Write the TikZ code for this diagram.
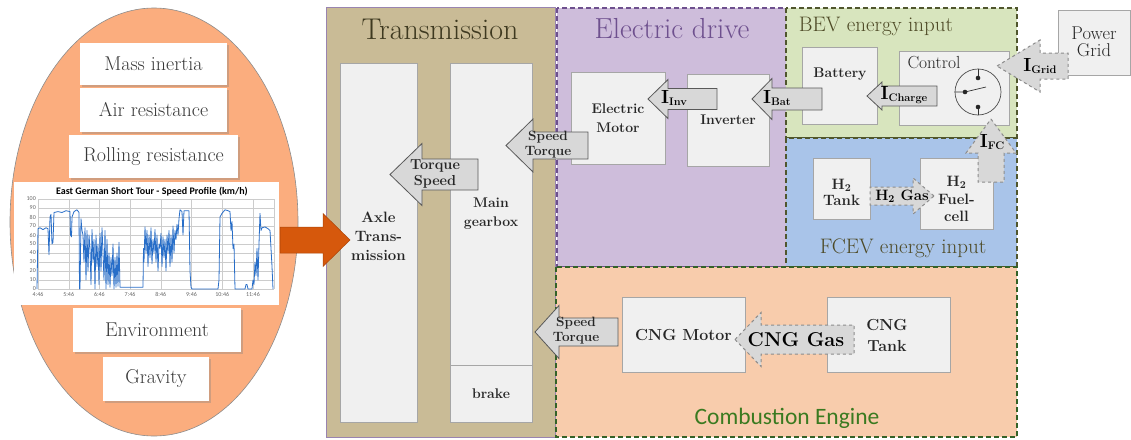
\documentclass[tikz,border=0pt]{standalone}
\usepackage{fontspec}
\setsansfont{Carlito}
\usetikzlibrary{shadows}
\definecolor{ellfill}{RGB}{251,173,126}
\definecolor{transfill}{RGB}{201,187,150}
\definecolor{transtext}{RGB}{62,57,32}
\definecolor{edfill}{RGB}{206,189,219}
\definecolor{bevfill}{RGB}{216,229,190}
\definecolor{fcevfill}{RGB}{169,196,233}
\definecolor{cngfill}{RGB}{248,204,172}
\definecolor{boxfill}{RGB}{240,240,240}
\definecolor{arrfill}{RGB}{216,216,216}
\definecolor{edline}{RGB}{110,80,142}
\definecolor{olivetext}{RGB}{78,74,38}
\definecolor{oliveline}{RGB}{80,86,45}
\definecolor{cngline}{RGB}{52,98,40}
\definecolor{cngtext}{RGB}{58,122,32}
\definecolor{orangearr}{RGB}{214,88,12}
\definecolor{speedblue}{RGB}{40,110,200}
\newcommand{\fsz}[2]{\fontsize{#1}{#2}\selectfont}
\newcommand{\Isub}[1]{\textbf{I}\raisebox{-1.5pt}{\fsz{11}{11}\bfseries #1}}
% left pointing block arrow: tip x, tip y, head base x, end x, half body, half head
\newcommand{\leftblock}[7][]{\draw[#1] (#2,#3) -- (#4,#3-#7) -- (#4,#3-#6) -- (#5,#3-#6)
  -- (#5,#3+#6) -- (#4,#3+#6) -- (#4,#3+#7) -- cycle;}

\begin{document}
\begin{tikzpicture}[x=1pt,y=-1pt,
  wbox/.style={fill=white, drop shadow={shadow xshift=1.5pt,shadow yshift=-1.5pt,opacity=0.35},
    text=black!78, font=\fsz{20}{22}},
  gbox/.style={fill=boxfill, draw=black!35, line width=0.6pt},
  btext/.style={font=\fsz{14}{19}\bfseries, align=center, text=black!85},
  atext/.style={font=\fsz{13.5}{15}\bfseries, align=center, text=black!85},
  arr/.style={fill=arrfill, draw=black!65, line width=0.8pt},
  darr/.style={fill=arrfill, draw=black!45, dashed, line width=1pt},
  panel/.style={line width=1.3pt, dash pattern=on 5pt off 3pt},
  axlab/.style={font=\sffamily\fsz{6}{7}, text=black!60, inner sep=1pt}]
  \useasboundingbox (0,0) rectangle (1131,439);

  % vehicle loads
  \draw[fill=ellfill, draw=black!45, line width=0.6pt] (154,222) ellipse [x radius=144, y radius=214];
  \node[wbox, minimum width=147pt, minimum height=42pt] (mass) at (153.5,64) {Mass inertia};
  \node[wbox, minimum width=147pt, minimum height=44pt] (air) at (153.5,110) {Air resistance};
  \node[wbox, minimum width=169pt, minimum height=43pt] (rolling) at (153.5,156.5) {Rolling resistance};
  \node[wbox, minimum width=168pt, minimum height=44pt] (environ) at (157,330) {Environment};
  \node[wbox, minimum width=106pt, minimum height=44pt] (gravity) at (156,379) {Gravity};

  % speed profile
  \node[fill=white, minimum width=265pt, minimum height=123pt] (chart) at (146.5,243.5) {};
  \node[font=\sffamily\bfseries\fsz{10}{11}] (charttitle) at (152,192) {East German Short Tour - Speed Profile (km/h)};
  \begin{scope}[shift={(0,289)}, y=0.9pt]
    \foreach \v in {0,10,...,100} {
      \draw[black!20, line width=0.4pt] (38,\v) -- (274,\v);
      \node[axlab, anchor=east] at (37,\v) {\v};
    }
    \foreach \lab [count=\k from 0] in {4:46,5:46,6:46,7:46,8:46,9:46,10:46,11:46} {
      \draw[black!20, line width=0.4pt] ({38+30.7*\k},0) -- ({38+30.7*\k},100);
      \node[axlab, anchor=north] at ({38+30.7*\k},-2) {\lab};
    }
    \draw[black!20, line width=0.4pt] (274,0) -- (274,100);
    \draw[speedblue, line width=0.8pt, line join=round] plot coordinates {
      (37,0) (38,67) (40,68) (43,66) (46,68) (48,67) (49,38) (50,80) (51,83) (52,50) (53,52)
      (54,85) (58,86) (62,85) (66,87) (70,86) (70.5,60) (71.5,58) (72,80) (74,86) (77,88)
      (79,85) (79.5,0) (80,0) (81,78) (82,65) (83,60) (84,30) (85,68) (86,10) (87,65) (88,20)
      (89,60) (90,45) (91,5) (92,66) (93,30) (94,55) (95,0) (96,60) (97,25) (98,50) (99,5)
      (100,62) (101,20) (102,68) (103,40) (104,10) (105,65) (106,0) (107,55) (108,5) (109,40)
      (110,2) (111,35) (112,15) (113,50) (114,0) (115,35) (116,2) (117,40) (118,3) (119,52)
      (120,2) (143,2) (143.5,45) (144,30) (145,69) (146,40) (147,65) (148,25) (149,60) (150,35)
      (151,68) (152,28) (153,55) (154,40) (155,66) (156,30) (157,60) (158,20) (159,50) (160,45)
      (161,62) (162,25) (163,58) (164,35) (165,55) (166,20) (167,60) (168,40) (169,65) (170,25)
      (171,60) (172,30) (173,70) (174,40) (175,65) (176,55) (177,72) (178,60) (179,78) (180,88)
      (182,86) (183,60) (184,87) (189,87) (190,20) (191,2) (192,0) (218,0) (219,10) (220,80)
      (222,84) (225,88) (228,87) (230,86) (231,65) (232,75) (233,45) (234,50) (235,0) (245,0)
      (246,5) (247,5) (248,0) (252,0) (253,10) (254,5) (255,30) (256,15) (257,45) (258,10)
      (259,50) (260,84) (261,65) (262,68) (265,69) (268,67) (270,65) (271,45) (272,25) (273,0)};
  \end{scope}

  % transmission
  \draw[fill=transfill, draw=edline!70, line width=0.8pt] (326,7) rectangle (555,437);
  \node[font=\fsz{30}{34}, text=transtext] (transtitle) at (440,29) {Transmission};
  \node[gbox, minimum width=77pt, minimum height=359pt] (axle) at (378.5,242.5) {};
  \node[btext, font=\fsz{15}{19}\bfseries] (axletext) at ([yshift=6pt]axle.center) {Axle\\Trans-\\mission};
  \node[gbox, minimum width=82pt, minimum height=302pt] (gearbox) at (491,214) {};
  \node[btext] (gearboxtext) at (gearbox.center) {Main\\gearbox};
  \node[gbox, minimum width=82pt, minimum height=57pt] (brake) at (491,393.5) {};
  \node[btext] (braketext) at (brake.center) {brake};

  % electric drive
  \draw[fill=edfill, draw=edline, panel] (557,8) rectangle (787,267);
  \node[font=\fsz{29}{33}, text=edline] (edtitle) at (672,29) {Electric drive};
  \node[gbox, minimum width=94pt, minimum height=92pt] (emotor) at (618,118) {};
  \node[btext] (emotortext) at (emotor.center) {Electric\\Motor};
  \node[gbox, minimum width=82pt, minimum height=92pt] (inverter) at (728,120) {};
  \node[btext] (invertertext) at (inverter.center) {Inverter};

  % BEV energy input
  \draw[fill=bevfill, draw=oliveline, panel] (786,8) rectangle (1017,138);
  \node[font=\fsz{21}{24}, text=olivetext] (bevtitle) at (876,26) {BEV energy input};
  \node[gbox, minimum width=75pt, minimum height=77pt] (battery) at (839.5,85.5) {};
  \node[btext] (batterytext) at (840,74) {Battery};
  \node[gbox, minimum width=110pt, minimum height=74pt] (control) at (954,88) {};
  \node[font=\fsz{17.5}{19}, text=black!85] (controltext) at (934,63) {Control};
  \node[draw=black!70, circle, minimum size=46pt, inner sep=0pt, line width=0.7pt] (switch) at (978,92) {};
  \coordinate (swtop) at (978,78);
  \coordinate (swbot) at (978,107);
  \coordinate (swleft) at (965,92);
  \draw[black!80, line width=0.7pt] (switch.north) -- (swtop);
  \draw[black!80, line width=0.7pt] (switch.south) -- (swbot);
  \draw[black!80, line width=0.7pt] (switch.west) -- (swleft) -- (986,87);
  \foreach \p in {swtop,swbot,swleft} \fill[black!85] (\p) circle [radius=2.3];

  % FCEV energy input
  \draw[fill=fcevfill, draw=oliveline, panel] (786,138) rectangle (1017,267);
  \node[font=\fsz{21}{24}, text=olivetext] (fcevtitle) at (903,248) {FCEV energy input};
  \node[gbox, minimum width=57pt, minimum height=61pt] (htank) at (841.5,188.5) {};
  \node[btext, font=\fsz{15}{16}\bfseries] (htanktext) at (841.5,192) {H\textsubscript{2}\\Tank};
  \node[gbox, minimum width=73pt, minimum height=71pt] (fuelcell) at (956.5,193.5) {};
  \node[btext, font=\fsz{15}{17.5}\bfseries] (fuelcelltext) at (956.5,199) {H\textsubscript{2}\\Fuel-\\cell};

  % combustion engine
  \draw[fill=cngfill, draw=cngline, panel] (556,267) rectangle (1017,437);
  \node[font=\sffamily\fsz{23.5}{26}, text=cngtext] (cngtitle) at (787,418) {Combustion Engine};
  \node[gbox, minimum width=123pt, minimum height=75pt] (cngmotor) at (683.5,334.5) {};
  \node[btext, font=\fsz{16}{20}\bfseries] (cngmotortext) at (683.5,335) {CNG Motor};
  \node[gbox, minimum width=123pt, minimum height=75pt] (cngtank) at (888.5,334.5) {};
  \node[btext, font=\fsz{16}{21}\bfseries] (cngtanktext) at (887,335) {CNG\\Tank};

  % power grid
  \node[gbox, minimum width=72pt, minimum height=65pt] (grid) at (1094,42.5) {};
  \node[font=\fsz{18.5}{17.5}, align=center, text=black!85] (gridtext) at (1094,42) {Power\\Grid};

  % block arrows
  \leftblock[arr]{390}{174.5}{422}{478}{15.5}{31}
  \node[atext, font=\fsz{14.5}{16}\bfseries] (tsarrow) at (435,174) {Torque\\Speed};
  \leftblock[arr]{506}{145.5}{533}{588}{13.5}{26.5}
  \node[atext] (emarrow) at (548,145) {Speed\\Torque};
  \leftblock[arr]{535}{332}{559}{618}{14}{26.5}
  \node[atext] (cngarrow) at (576,331) {Speed\\Torque};
  \leftblock[arr]{648}{99}{668}{717}{10.5}{19.5}
  \node[font=\fsz{19}{20}] (iinv) at (674,98) {\Isub{Inv}};
  \leftblock[arr]{752}{99}{772}{822}{11}{20.5}
  \node[font=\fsz{19}{20}] (ibat) at (777,98) {\Isub{Bat}};
  \leftblock[arr]{867}{96}{882}{937}{10}{14}
  \node[font=\fsz{19}{20}] (icharge) at (904,95) {\Isub{Charge}};
  \leftblock[darr]{735}{339.5}{761}{854}{14.5}{27}
  \node[font=\fsz{20}{20}\bfseries] (cnggas) at (796,340) {CNG Gas};
  \leftblock[darr]{997}{66}{1040}{1068}{13}{26}
  \node[font=\fsz{19}{20}] (igrid) at (1040,66) {\Isub{Grid}};
  \draw[darr] (934,196) -- (913,178) -- (913,187) -- (870,187) -- (870,205) -- (913,205) -- (913,214) -- cycle;
  \node[font=\fsz{15}{15}\bfseries] (hgas) at (902,196) {H\textsubscript{2} Gas};
  \draw[darr] (991,119) -- (1016,153) -- (1004,153) -- (1004,182) -- (978,182) -- (978,153) -- (966,153) -- cycle;
  \node[font=\fsz{19}{20}] (ifc) at (992,142) {\Isub{FC}};
  \draw[fill=orangearr, draw=orangearr!80!black, line width=0.5pt] (350,240) -- (323,213.5) -- (323,227)
    -- (280,227) -- (280,253) -- (323,253) -- (323,266.5) -- cycle;
\end{tikzpicture}
\end{document}
